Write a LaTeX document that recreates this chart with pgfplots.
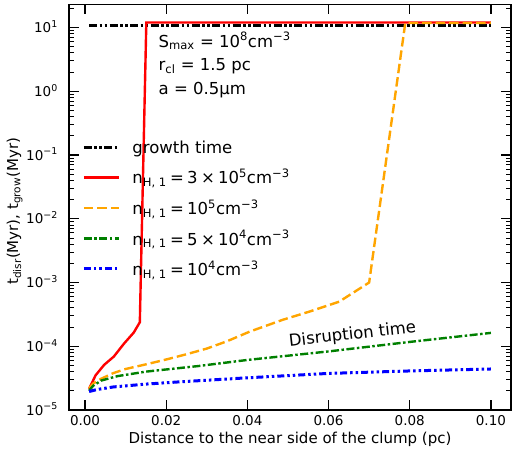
\documentclass[border=0pt]{standalone}
\usepackage{fontspec}
\setmainfont{DejaVu Sans}
\usepackage{pgfplots}
\pgfplotsset{compat=1.18}
\usetikzlibrary{calc}
\definecolor{mplorange}{HTML}{FFA500}
\definecolor{mplgreen}{HTML}{008000}

\newcommand{\sub}[1]{\textsubscript{#1}}
\newcommand{\sups}[1]{\textsuperscript{#1}}
\newcommand{\gap}{\hspace{0.2em}}

\begin{document}
\begin{tikzpicture}
\begin{axis}[
  scale only axis, width=442pt, height=405.5pt,
  ymode=log,
  xmin=-0.00395, xmax=0.10495, ymin=1e-5, ymax=23,
  axis line style={line width=1.6pt},
  tick align=inside, major tick length=10pt, minor tick length=5pt,
  every major tick/.append style={black, line width=1.2pt},
  every minor tick/.append style={black, line width=0.9pt},
  xtick={0,0.02,0.04,0.06,0.08,0.1},
  xticklabels={0.00,0.02,0.04,0.06,0.08,0.10},
  ytick={1e-5,1e-4,1e-3,1e-2,1e-1,1,10},
  yticklabels={10\sups{−5},10\sups{−4},10\sups{−3},10\sups{−2},10\sups{−1},10\sups{0},10\sups{1}},
  minor ytick={2e-5,3e-5,4e-5,5e-5,6e-5,7e-5,8e-5,9e-5,2e-4,3e-4,4e-4,5e-4,6e-4,7e-4,8e-4,9e-4,2e-3,3e-3,4e-3,5e-3,6e-3,7e-3,8e-3,9e-3,0.02,0.03,0.04,0.05,0.06,0.07,0.08,0.09,0.2,0.3,0.4,0.5,0.6,0.7,0.8,0.9,2,3,4,5,6,7,8,9,20},
  ticklabel style={font=\fontsize{13.5}{16}\selectfont},
  xticklabel style={anchor=center, yshift=-10.7pt},
  yticklabel style={anchor=base east, inner xsep=0pt, xshift=-11pt, yshift=-5pt},
  xlabel={Distance to the near side of the clump (pc)},
  ylabel={t\sub{disr}(Myr), t\sub{grow}(Myr)},
  label style={font=\fontsize{15}{18}\selectfont},
  xlabel style={at={(axis description cs:0.5,-0.0715)}, anchor=center},
  ylabel style={at={(axis description cs:-0.123,0.49)}, anchor=center},
  legend image code/.code={\draw[#1] (0pt,0pt) -- (35pt,0pt);},
  legend cell align=left,
  legend style={draw=none, fill=none, at={(axis description cs:0.03,0.669)}, anchor=north west,
    font=\fontsize{16.5}{19}\selectfont, inner sep=0pt, row sep=10.2pt, column sep=10pt},
]
\addplot[black, line width=3pt, dash pattern=on 8pt off 2.5pt on 2.5pt off 2.5pt on 2.5pt off 2.5pt]
  coordinates {(0.001,10.8) (0.1,10.8)};
\addlegendentry{growth time}

\addplot[red, line width=2.4pt]
  coordinates {(0.001,2.15e-5) (0.0026,3.5e-5) (0.0047,5.1e-5) (0.0071,6.9e-5) (0.0096,1.1e-4)
  (0.012,1.64e-4) (0.0135,2.38e-4) (0.0151,12) (0.1,12)};
\addlegendentry{n\sub{H, 1}\gap=\gap3\gap×\gap10\sups{5}cm\sups{−3}}

\addplot[mplorange, line width=2.4pt, dash pattern=on 9.5pt off 4pt]
  coordinates {(0.001,2.2e-5) (0.002,2.6e-5) (0.004,3.1e-5) (0.007,3.8e-5) (0.01,4.4e-5)
  (0.015,5.2e-5) (0.02,6.2e-5) (0.025,7.5e-5) (0.03,9.2e-5) (0.035,1.2e-4) (0.0406,1.7e-4)
  (0.0487,2.6e-4) (0.0553,3.5e-4) (0.0626,5.0e-4) (0.070,1.0e-3) (0.0789,11.8) (0.1,11.8)};
\addlegendentry{n\sub{H, 1}\gap=\gap10\sups{5}cm\sups{−3}}

\addplot[mplgreen, line width=2.4pt, dash pattern=on 8pt off 2.5pt on 2.5pt off 2.5pt]
  coordinates {(0.001,2.0e-5) (0.002,2.4e-5) (0.004,2.9e-5) (0.008,3.4e-5) (0.015,4.0e-5)
  (0.028,4.9e-5) (0.04,6.1e-5) (0.06,8.3e-5) (0.08,1.17e-4) (0.1,1.62e-4)};
\addlegendentry{n\sub{H, 1}\gap=\gap5\gap×\gap10\sups{4}cm\sups{−3}}

\addplot[blue, line width=3pt, dash pattern=on 7pt off 3pt on 2.5pt off 3pt on 2.5pt off 3pt]
  coordinates {(0.001,1.95e-5) (0.003,2.1e-5) (0.007,2.3e-5) (0.015,2.55e-5) (0.0235,2.77e-5)
  (0.04,3.2e-5) (0.06,3.75e-5) (0.08,4.1e-5) (0.1,4.4e-5)};
\addlegendentry{n\sub{H, 1}\gap=\gap10\sups{4}cm\sups{−3}}

\node[anchor=west, inner sep=0pt, font=\fontsize{16.5}{19}\selectfont] at (axis cs:0.0181,6.15) {S\sub{max} = 10\sups{8}cm\sups{−3}};
\node[anchor=west, inner sep=0pt, font=\fontsize{16.5}{19}\selectfont] at (axis cs:0.0181,2.49) {r\sub{cl} = 1.5 pc};
\node[anchor=west, inner sep=0pt, font=\fontsize{16.5}{19}\selectfont] at (axis cs:0.0181,1.045) {a = 0.5μm};
\node[rotate=6.5, font=\fontsize{16.5}{19}\selectfont] at (axis cs:0.0659,1.51e-4) {Disruption time};
\end{axis}
\pgfresetboundingbox
\path[use as bounding box] ($(current axis.south west)+(-69pt,-45pt)$) rectangle ($(current axis.north east)+(1pt,4.5pt)$);
\end{tikzpicture}
\end{document}
